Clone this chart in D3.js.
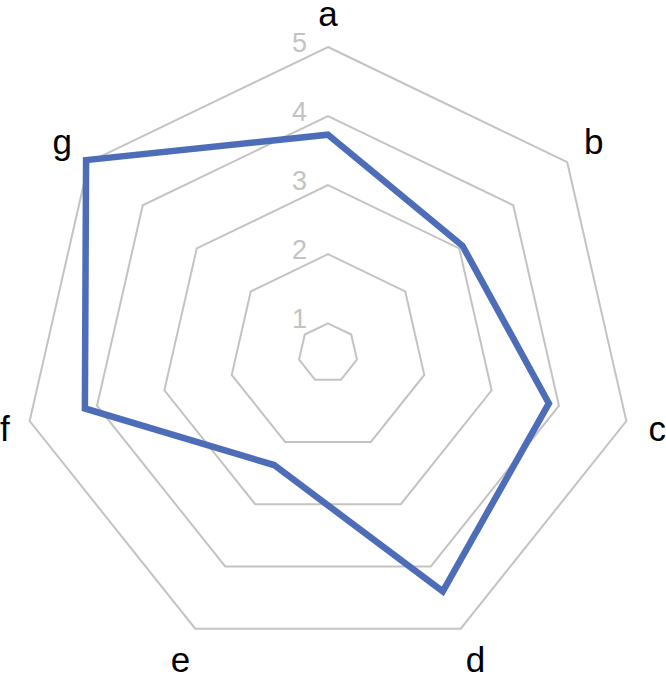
<!DOCTYPE html>
<html>
<head>
<meta charset="utf-8">
<script src="https://cdn.jsdelivr.net/npm/d3@7"></script>
<style>
  html, body { margin: 0; padding: 0; background: #fff; }
  svg { display: block; }
</style>
</head>
<body>
<div id="chart"></div>
<script>
const categories = ["a", "b", "c", "d", "e", "f", "g"];
const values = [3.73, 3.06, 3.85, 4.40, 2.37, 4.18, 5.05];
const tickValues = [1, 2, 3, 4, 5];
const tickLabels = ["1", "2", "3", "4", "5"];

const W = 666, H = 678;
const cx = 328, cy = 353;
const font = "'Liberation Sans', Arial, Helvetica, sans-serif";

const svg = d3.select("#chart").append("svg")
  .attr("width", W).attr("height", H);

const r = d3.scaleLinear().domain([0.57, 5]).range([0, 306]);
const angle = d3.scalePoint().domain(categories).range([0, 2 * Math.PI * (categories.length - 1) / categories.length]);

const g = svg.append("g").attr("transform", `translate(${cx},${cy})`);

const radial = d3.lineRadial()
  .angle(d => d.a)
  .radius(d => d.r)
  .curve(d3.curveLinearClosed);

// grid heptagons
g.selectAll("path.grid")
  .data(tickValues)
  .join("path")
  .attr("class", "grid")
  .attr("d", v => radial(categories.map(c => ({ a: angle(c), r: r(v) }))))
  .attr("fill", "none")
  .attr("stroke", "#c3c3c3")
  .attr("stroke-width", 2);

// tick labels
g.selectAll("text.tick")
  .data(tickValues)
  .join("text")
  .attr("class", "tick")
  .attr("x", -21)
  .attr("y", v => -r(v) + 4.5)
  .attr("text-anchor", "end")
  .attr("font-family", font)
  .attr("font-size", 27)
  .attr("fill", "#c3c3c3")
  .text((v, i) => tickLabels[i]);

// data polygon
g.append("path")
  .datum(categories.map((c, i) => ({ a: angle(c), r: r(values[i]) })))
  .attr("d", radial)
  .attr("fill", "none")
  .attr("stroke", "#4e6db8")
  .attr("stroke-width", 6.5)
  .attr("stroke-linejoin", "miter");

// category labels (kept inside the canvas horizontally)
const L = 340;
g.selectAll("text.cat")
  .data(categories)
  .join("text")
  .attr("class", "cat")
  .attr("y", c => -L * Math.cos(angle(c)) + 12.7)
  .attr("text-anchor", "middle")
  .attr("font-family", font)
  .attr("font-size", 35)
  .attr("fill", "#000")
  .text(c => c)
  .attr("x", function(c) {
    const half = this.getComputedTextLength() / 2;
    const x = L * Math.sin(angle(c));
    return Math.max(-cx + half, Math.min(W - cx - half, x));
  });
</script>
</body>
</html>
